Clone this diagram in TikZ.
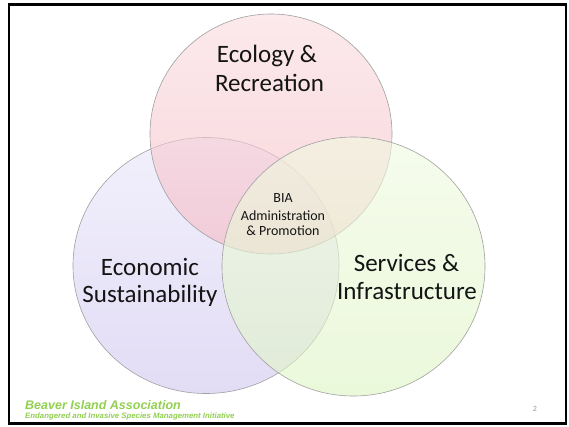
\documentclass[tikz,border=0pt]{standalone}
\usepackage{fontspec}
\setmainfont{Carlito}
\newfontfamily\arialfont{Liberation Sans}
\definecolor{ecoTopA}{RGB}{250,220,224}
\definecolor{ecoTopB}{RGB}{245,185,195}
\definecolor{lavA}{RGB}{242,240,252}
\definecolor{lavB}{RGB}{226,220,245}
\definecolor{grnA}{RGB}{240,250,225}
\definecolor{grnB}{RGB}{222,245,195}
\definecolor{ringgray}{RGB}{160,160,160}
\definecolor{footgreen}{RGB}{146,208,80}
\definecolor{txt}{RGB}{20,20,20}
\tikzset{
  ring/.style={draw=ringgray, line width=0.6pt},
  biglabel/.style={font=\fontsize{25}{29}\selectfont, text=txt, anchor=base, inner sep=0pt},
  smalllabel/.style={font=\fontsize{14}{16}\selectfont, text=txt, anchor=base, inner sep=0pt},
}
\begin{document}
\begin{tikzpicture}[x=1pt,y=-1pt]
\useasboundingbox (0,0) rectangle (569,426);
\fill[white] (0,0) rectangle (569,426);
% frame
\draw[line width=2.6pt, black] (9,4.5) rectangle (566,423.5);
% circles
\shade[top color=lavA, bottom color=lavB] (206,265.5) ellipse [x radius=133, y radius=128];
\draw[ring] (206,265.5) ellipse [x radius=133, y radius=128];
\shade[top color=ecoTopA, bottom color=ecoTopB, fill opacity=0.6] (271,134) ellipse [x radius=121, y radius=120];
\draw[ring] (271,134) ellipse [x radius=121, y radius=120];
\shade[top color=grnA, bottom color=grnB, fill opacity=0.6] (353.5,266.5) ellipse [x radius=131.5, y radius=129.5];
\draw[ring] (353.5,266.5) ellipse [x radius=131.5, y radius=129.5];
% labels
\node[biglabel] (eco1) at (267,62) {Ecology \&};
\node[biglabel] (eco2) at (269.5,91) {Recreation};
\node[biglabel] (econ1) at (150,275) {Economic};
\node[biglabel] (econ2) at (150,302) {Sustainability};
\node[biglabel] (serv1) at (406.5,271.5) {Services \&};
\node[biglabel] (serv2) at (407,299.5) {Infrastructure};
\node[smalllabel] (bia1) at (283,202.7) {BIA};
\node[smalllabel] (bia2) at (283,220) {Administration};
\node[smalllabel] (bia3) at (283,235.5) {\& Promotion};
% footer
\node[anchor=base west, inner sep=0pt, text=footgreen, font=\arialfont\bfseries\itshape\fontsize{12.5}{14}\selectfont] (foot1) at (25,409) {Beaver Island Association};
\node[anchor=base west, inner sep=0pt, text=footgreen, font=\arialfont\bfseries\itshape\fontsize{7.8}{9}\selectfont] (foot2) at (25,418.5) {Endangered and Invasive Species Management Initiative};
\node[anchor=base, inner sep=0pt, text=gray!80, font=\fontsize{8}{9}\selectfont] (pagenum) at (535,411) {2};
\end{tikzpicture}
\end{document}
